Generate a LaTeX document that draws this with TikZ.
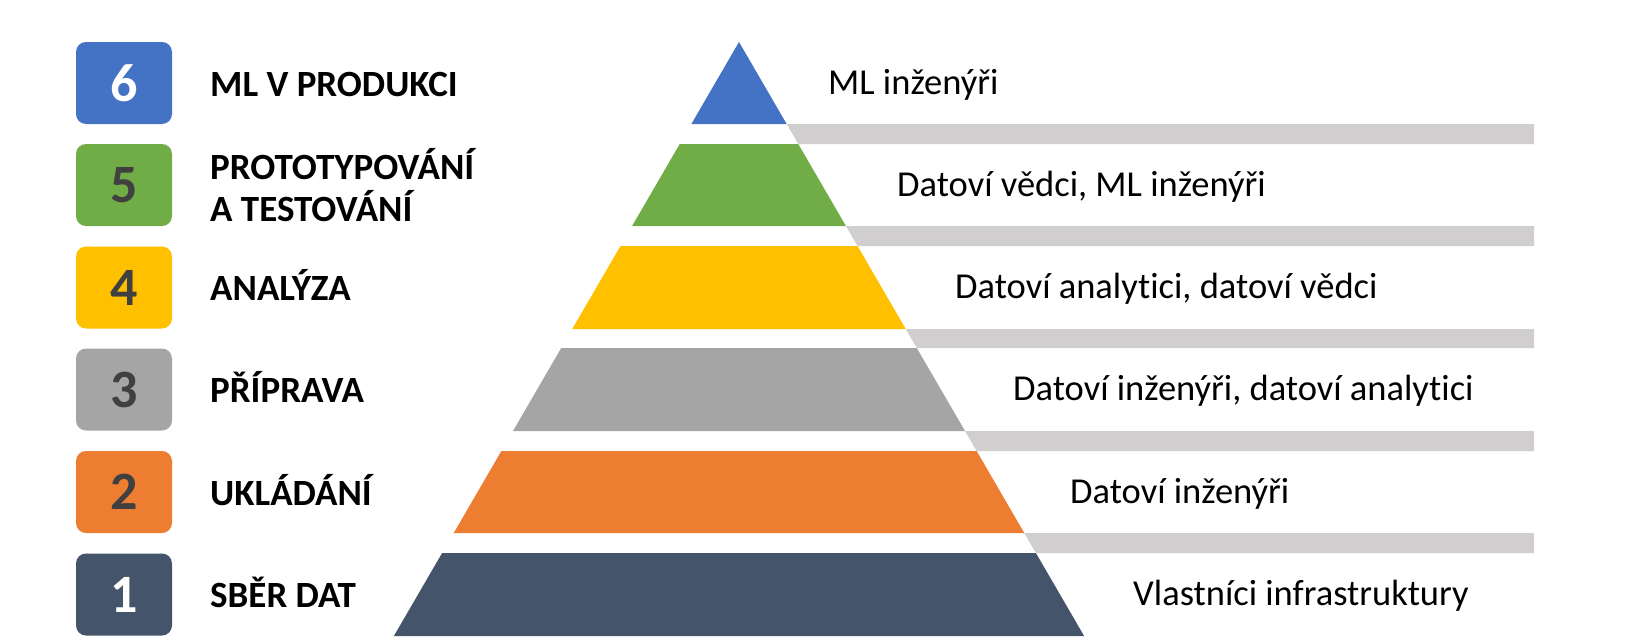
\documentclass[tikz,border=0pt]{standalone}
\usepackage{fontspec}
\setmainfont{Carlito}[Ligatures=NoCommon]
\definecolor{cBlue}{HTML}{4472C4}
\definecolor{cGreen}{HTML}{70AD47}
\definecolor{cYellow}{HTML}{FFC000}
\definecolor{cGray}{HTML}{A5A5A5}
\definecolor{cOrange}{HTML}{ED7D31}
\definecolor{cDark}{HTML}{44546A}
\definecolor{cBar}{HTML}{D0CECE}
\definecolor{cNum}{HTML}{404040}
\begin{document}
\begin{tikzpicture}[x=1pt,y=-1pt,
  numbox/.style={rounded corners=10pt, minimum width=96pt, minimum height=82pt, inner sep=0pt,
    font=\bfseries\fontsize{54}{54}\selectfont},
  stagelabel/.style={anchor=base west, inner sep=0pt, align=left, text=black,
    font=\bfseries\fontsize{37}{42}\selectfont},
  roletext/.style={anchor=base west, inner sep=0pt, text=black,
    font=\fontsize{36.5}{40}\selectfont},
  gapbar/.style={fill=cBar}]
\useasboundingbox (0,0) rectangle (1630,640);
\fill[white] (0,0) rectangle (1630,640);
% tiers, boxes and labels
\foreach \t/\b/\col/\ncol/\num/\lab/\rt/\rx [count=\k] in {
  42/124/cBlue/white/6/{ML V PRODUKCI}/{ML inženýři}/828,
  144/226/cGreen/cNum/5/{PROTOTYPOVÁNÍ\\A TESTOVÁNÍ}/{Datoví vědci, ML inženýři}/897,
  246/329/cYellow/cNum/4/{ANALÝZA}/{Datoví analytici, datoví vědci}/955,
  348/431/cGray/cNum/3/{PŘÍPRAVA}/{Datoví inženýři, datoví analytici}/1013,
  451/533/cOrange/cNum/2/{UKLÁDÁNÍ}/{Datoví inženýři}/1070,
  553/636/cDark/white/1/{SBĚR DAT}/{Vlastníci infrastruktury}/1133}{
  \pgfmathsetmacro\hwt{0.581*(\t-42)}
  \pgfmathsetmacro\hwb{0.581*(\b-42)}
  \pgfmathsetmacro\mid{(\t+\b)/2}
  \fill[\col] (739-\hwt,\t) -- (739+\hwt,\t) -- (739+\hwb,\b) -- (739-\hwb,\b) -- cycle;
  \node[numbox, fill=\col, text=\ncol] (box\k) at (124,\mid) {\num};
  \ifnum\k=2
    \node[stagelabel] (lab\k) at (210,221) {\lab};
  \else
    \node[stagelabel] (lab\k) at (210,\mid+13) {\lab};
  \fi
  \node[roletext] (role\k) at (\rx,\mid+11) {\rt};
}
% gap bars
\foreach \b/\t in {124/144, 226/246, 329/348, 431/451, 533/553}{
  \pgfmathsetmacro\hwt{0.581*(\t-42)}
  \pgfmathsetmacro\hwb{0.581*(\b-42)}
  \fill[gapbar] (739+\hwb,\b) -- (1534,\b) -- (1534,\t) -- (739+\hwt,\t) -- cycle;
}
\end{tikzpicture}
\end{document}
